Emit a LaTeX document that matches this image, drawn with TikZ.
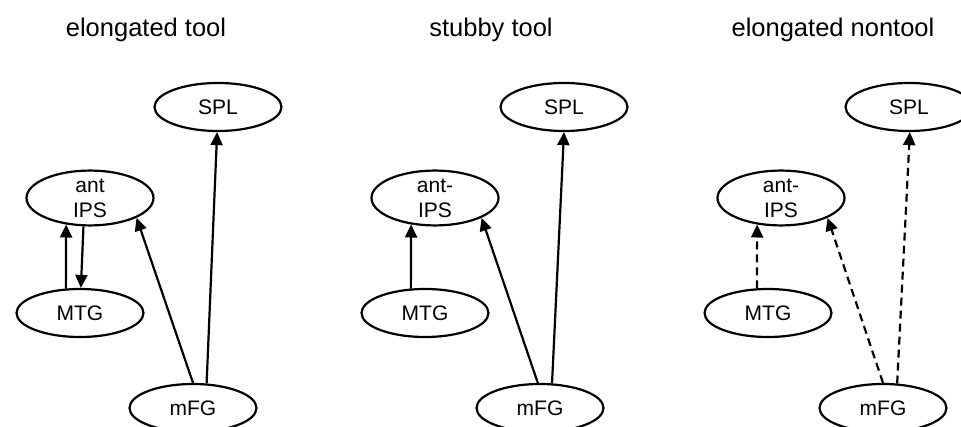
\documentclass[tikz,border=0pt]{standalone}
\usepackage{fontspec}
\setmainfont{Liberation Sans}
\usetikzlibrary{shapes.geometric,arrows.meta}
\begin{document}
\begin{tikzpicture}[x=1pt,y=-1pt,
  region/.style={draw, ellipse, line width=2.2pt, minimum width=127pt, minimum height=48pt, inner sep=0pt, align=center,
    font=\fontsize{21}{25}\selectfont},
  title/.style={anchor=base, font=\fontsize{25.5}{30}\selectfont},
  link/.style={line width=2.2pt, -{Triangle[length=13pt,width=12pt]}},
  weak/.style={link, dash pattern=on 8pt off 5pt}]
\useasboundingbox (0,0) rectangle (961,427);
\clip (0,0) rectangle (961,427);
% titles
\node[title] (t1) at (146,37) {elongated tool};
\node[title] (t2) at (491,37) {stubby tool};
\node[title] (t3) at (833,37) {elongated nontool};
% panel 1
\node[region] (spl1) at (218,107) {SPL};
\node[region] (ips1) at (90,198) {ant\\IPS};
\node[region] (mtg1) at (80,313) {MTG};
\node[region] (mfg1) at (193,408) {mFG};
\draw[link] (mtg1.120) -- (ips1.228);
\draw[link] (ips1.257) -- (mtg1.88);
\draw[link] (mfg1.90) -- (ips1.-23);
\draw[link] (mfg1.61) -- (spl1.268);
% panel 2
\node[region] (spl2) at (564,107) {SPL};
\node[region] (ips2) at (435,198) {ant-\\IPS};
\node[region] (mtg2) at (425,313) {MTG};
\node[region] (mfg2) at (540,408) {mFG};
\draw[link] (mtg2.120) -- (ips2.228);
\draw[link] (mfg2.95) -- (ips2.-23);
\draw[link] (mfg2.64) -- (spl2.270);
% panel 3
\node[region] (spl3) at (909,107) {SPL};
\node[region] (ips3) at (781,198) {ant-\\IPS};
\node[region] (mtg3) at (768,313) {MTG};
\node[region] (mfg3) at (883,408) {mFG};
\draw[weak] (mtg3.114) -- (ips3.228);
\draw[weak] (mfg3.90) -- (ips3.-23);
\draw[weak] (mfg3.60) -- (spl3.272);
\end{tikzpicture}
\end{document}
